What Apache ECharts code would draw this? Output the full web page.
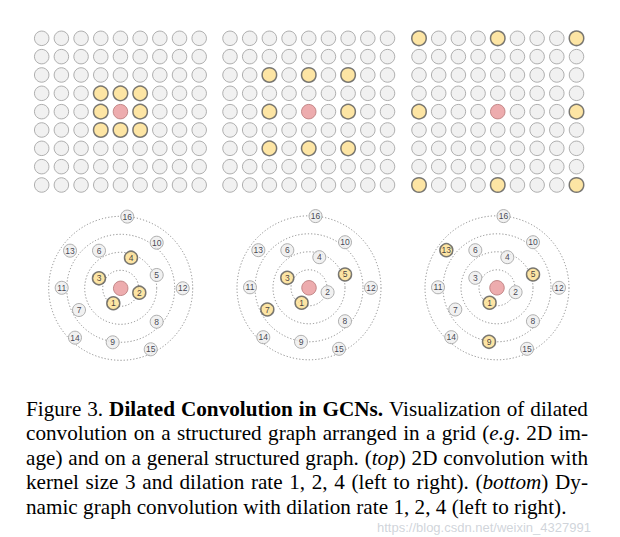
<!DOCTYPE html>
<html><head><meta charset="utf-8">
<script src="https://cdn.jsdelivr.net/npm/echarts@6/dist/echarts.min.js"></script>
<style>html,body{margin:0;padding:0;background:#fff}#c{width:620px;height:537px}</style>
</head><body><div id="c"></div>
<script>
// ---------- data ----------
const gridSize = 9;                       // 9 x 9 pixel grid
const gridCenter = [4, 4];                // [col, row]
const gridHighlights = [
  [[3,3],[4,3],[5,3],[3,4],[5,4],[3,5],[4,5],[5,5]],   // dilation 1
  [[2,2],[4,2],[6,2],[2,4],[6,4],[2,6],[4,6],[6,6]],   // dilation 2
  [[0,0],[4,0],[8,0],[0,4],[8,4],[0,8],[4,8],[8,8]]    // dilation 4
];
const nodeLabels = ['1','2','3','4','5','6','7','8','9','10','11','12','13','14','15','16'];
const nodeRadius = [16.7,19.1,23.9,32.3,38.4,43.4,47,49.1,54.6,58.1,59,62,63.1,67.3,68,72];
const nodeAngle  = [243.7,346.7,155.3,71.4,20.3,120,207.5,317.1,261.6,51.7,179.5,0,143.4,227.2,296.2,84.8];
const graphHighlights = [['1','2','3','4'],['1','3','5','7'],['1','5','9','13']];
const ringStep = 18, ringMax = 72;
const captionLines = [
  "Figure 3. **Dilated Convolution in GCNs.** Visualization of dilated",
  "convolution on a structured graph arranged in a grid (_e.g_. 2D im-",
  "age) and on a general structured graph. (_top_) 2D convolution with",
  "kernel size 3 and dilation rate 1, 2, 4 (left to right). (_bottom_) Dy-",
  "namic graph convolution with dilation rate 1, 2, 4 (left to right)."
];
const watermark = "https://blog.csdn.net/weixin_4327991";

// ---------- styles ----------
const GRAY = {color:'#ededed', borderColor:'#9c9c9c', borderWidth:1};
const YEL  = {color:'#fddf8d', borderColor:'#575757', borderWidth:1.5};
const RED  = {color:'#e8979a', borderColor:'#b57676', borderWidth:1};
const gridLefts = [41.7, 230, 419];
const polarCenters = [[120.7,288.3],[309,287.8],[497,287.8]];

const chart = echarts.init(document.getElementById('c'), null, {renderer:'svg'});
const option = {backgroundColor:'#fff', animation:false,
  grid:[], xAxis:[], yAxis:[], polar:[], radiusAxis:[], angleAxis:[], series:[], graphic:[]};

for (let g = 0; g < 3; g++) {
  option.grid.push({left:gridLefts[g], top:38.3, width:157.5, height:146.7, containLabel:false});
  option.xAxis.push({gridIndex:g, type:'value', min:0, max:gridSize-1, show:false});
  option.yAxis.push({gridIndex:g, type:'value', min:0, max:gridSize-1, inverse:true, show:false});
  const hl = gridHighlights[g].map(p => p.join(','));
  const data = [];
  for (let r = 0; r < gridSize; r++) for (let c = 0; c < gridSize; c++) {
    let st = GRAY;
    if (c === gridCenter[0] && r === gridCenter[1]) st = RED;
    else if (hl.includes(c+','+r)) st = YEL;
    data.push({value:[c, r], itemStyle:st});
  }
  option.series.push({type:'scatter', xAxisIndex:g, yAxisIndex:g, symbolSize:14.5, data,
    emphasis:{disabled:true}, silent:true});

  option.polar.push({center:polarCenters[g], radius:ringMax});
  option.radiusAxis.push({polarIndex:g, type:'value', min:0, max:ringMax, interval:ringStep,
    axisLine:{show:false}, axisTick:{show:false}, axisLabel:{show:false},
    splitLine:{show:true, lineStyle:{type:[1.2,2], color:'#8a8a8a', width:1}}});
  option.angleAxis.push({polarIndex:g, type:'value', min:0, max:360, startAngle:0, clockwise:false,
    axisLine:{show:false}, axisTick:{show:false}, axisLabel:{show:false}, splitLine:{show:false}});
  const nodes = nodeLabels.map((lab, i) => ({
    value:[nodeRadius[i], nodeAngle[i]], name:lab,
    itemStyle: graphHighlights[g].includes(lab) ? YEL : GRAY}));
  option.series.push({type:'scatter', coordinateSystem:'polar', polarIndex:g, symbolSize:13, z:3,
    data:nodes, silent:true,
    label:{show:true, position:'inside', formatter:p => p.name, fontSize:8.5,
      fontFamily:'Liberation Sans', color:'#141428'}});
  option.series.push({type:'scatter', coordinateSystem:'polar', polarIndex:g, symbolSize:14.5, z:3,
    data:[{value:[0,0], itemStyle:RED}], silent:true});
}

// ---------- justified caption ----------
const FS = 20, SX = 1.06, FAM = '"Liberation Serif", "Times New Roman", serif';
const LEFT = 26, RIGHT = 588, MID0 = 409, LH = 24.5;
const ctx = document.createElement('canvas').getContext('2d');
const fontOf = (b, i) => `${i?'italic ':''}${b?'bold ':''}${FS}px ${FAM}`;
let bold = false, ital = false;
captionLines.forEach((line, li) => {
  const words = line.split(' ').map(w => {
    const pieces = [];
    let buf = '';
    const flush = () => { if (buf) { pieces.push({t:buf, b:bold, i:ital}); buf=''; } };
    for (let k = 0; k < w.length; k++) {
      if (w[k] === '*' && w[k+1] === '*') { flush(); bold = !bold; k++; }
      else if (w[k] === '_') { flush(); ital = !ital; }
      else buf += w[k];
    }
    flush();
    pieces.forEach(p => { ctx.font = fontOf(p.b, p.i); p.w = ctx.measureText(p.t).width * SX; });
    return {pieces, w: pieces.reduce((s,p)=>s+p.w,0)};
  });
  const total = words.reduce((s,w)=>s+w.w,0);
  ctx.font = fontOf(false,false);
  const sp = ctx.measureText(' ').width * SX;
  const gap = li < captionLines.length-1 ? (RIGHT-LEFT-total)/(words.length-1) : sp;
  let x = LEFT;
  const y = MID0 + li*LH;
  words.forEach(w => {
    w.pieces.forEach(p => {
      option.graphic.push({type:'text', x:x, y:y, scaleX:SX, z:10, silent:true,
        style:{text:p.t, font:fontOf(p.b,p.i), fill:'#000', textAlign:'left', align:'left',
               textVerticalAlign:'middle', verticalAlign:'middle'}});
      x += p.w;
    });
    x += gap;
  });
});
option.graphic.push({type:'text', x:377, y:527, z:5, silent:true,
  style:{text:watermark, font:'13px "Liberation Sans", sans-serif', fill:'rgba(200,205,212,0.85)',
         textAlign:'left', align:'left', verticalAlign:'middle', textVerticalAlign:'middle'}});

chart.setOption(option);
</script></body></html>
